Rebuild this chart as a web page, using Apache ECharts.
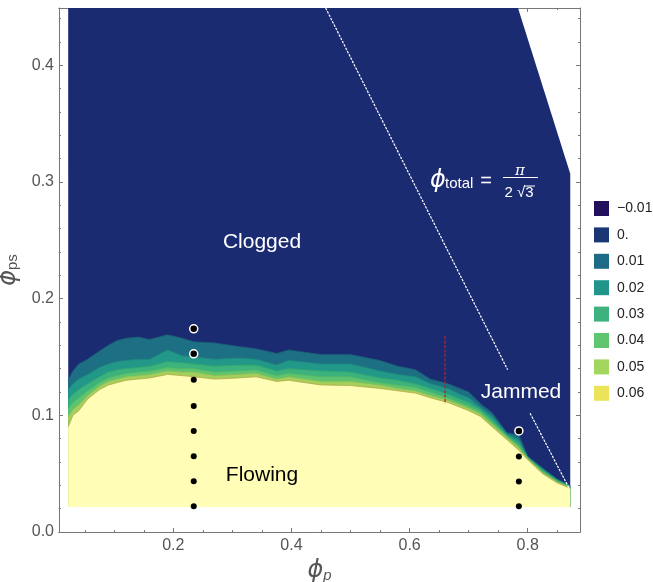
<!DOCTYPE html>
<html>
<head>
<meta charset="utf-8">
<script src="https://cdn.jsdelivr.net/npm/echarts@6/dist/echarts.min.js"></script>
<style>
  html, body { margin: 0; padding: 0; background: #fff; }
  #chart { width: 653px; height: 582px; }
</style>
</head>
<body>
<div id="chart"></div>
<script>
// contour boundaries (phi_p -> phi_ps)
const xs = [0.022, 0.03, 0.04, 0.055, 0.075, 0.09, 0.105, 0.12, 0.14, 0.16, 0.19, 0.215, 0.235, 0.27, 0.31, 0.34, 0.375, 0.395, 0.45, 0.5, 0.55, 0.58, 0.61, 0.635, 0.665, 0.685, 0.70, 0.72, 0.74, 0.765, 0.785, 0.80, 0.825, 0.85, 0.872]
const c0 = [0.130, 0.138, 0.144, 0.148, 0.155, 0.160, 0.164, 0.166, 0.167, 0.165, 0.169, 0.166, 0.163, 0.162, 0.159, 0.157, 0.153, 0.156, 0.152, 0.152, 0.147, 0.142, 0.139, 0.131, 0.127, 0.123, 0.120, 0.110, 0.102, 0.085, 0.083, 0.065, 0.055, 0.045, 0.040]
const c1 = [0.122, 0.127, 0.131, 0.135, 0.141, 0.144, 0.146, 0.147, 0.148, 0.148, 0.156, 0.151, 0.150, 0.148, 0.149, 0.148, 0.143, 0.147, 0.144, 0.144, 0.138, 0.135, 0.133, 0.127, 0.123, 0.118, 0.115, 0.107, 0.099, 0.084, 0.079, 0.064, 0.054, 0.045, 0.039]
const c2 = [0.113, 0.118, 0.122, 0.127, 0.133, 0.137, 0.139, 0.140, 0.141, 0.142, 0.146, 0.145, 0.144, 0.142, 0.143, 0.143, 0.138, 0.140, 0.138, 0.137, 0.132, 0.130, 0.127, 0.123, 0.118, 0.114, 0.111, 0.105, 0.096, 0.083, 0.076, 0.064, 0.053, 0.044, 0.039]
const c3 = [0.106, 0.111, 0.115, 0.121, 0.128, 0.132, 0.134, 0.136, 0.137, 0.138, 0.141, 0.140, 0.140, 0.137, 0.138, 0.139, 0.134, 0.136, 0.133, 0.133, 0.128, 0.126, 0.124, 0.120, 0.115, 0.111, 0.108, 0.103, 0.094, 0.082, 0.074, 0.063, 0.052, 0.043, 0.038]
const c4 = [0.099, 0.105, 0.109, 0.117, 0.125, 0.129, 0.131, 0.133, 0.134, 0.135, 0.138, 0.137, 0.137, 0.134, 0.135, 0.136, 0.131, 0.133, 0.129, 0.129, 0.126, 0.123, 0.121, 0.117, 0.113, 0.109, 0.106, 0.101, 0.092, 0.081, 0.072, 0.063, 0.051, 0.043, 0.038]
const c5 = [0.090, 0.100, 0.104, 0.114, 0.122, 0.126, 0.128, 0.130, 0.131, 0.132, 0.135, 0.134, 0.133, 0.131, 0.132, 0.133, 0.129, 0.130, 0.126, 0.1255, 0.123, 0.121, 0.119, 0.115, 0.111, 0.107, 0.104, 0.099, 0.090, 0.079, 0.070, 0.062, 0.050, 0.042, 0.0375]
const curves = [c0, c1, c2, c3, c4, c5]
const bandColors = ['#1d6f83', '#229889', '#3cb27c', '#5dc46f', '#a3d05d', '#fffdb6']
const lineColors = ['#1a5f74', '#1f8a7d', '#35a470', '#54b565', '#93bd55', '#b5a845']

// sampled region of the plot
const domainX = [0.022, 0.022, 0.7835, 0.872, 0.872]
const domainY = [0.0214, 0.449, 0.449, 0.307, 0.0214]
const bottomY = 0.0214

// phi_total = pi / (2 sqrt 3) line, two pieces around the label
const totalLineA = [[0.4579, 0.449], [0.766, 0.139]]
const totalLineB = [[0.804, 0.1018], [0.870, 0.0375]]
const redLine = [[0.66, 0.168], [0.66, 0.110]]

// simulation points
const blackDots = [[0.2345, 0.022], [0.2345, 0.0435], [0.2345, 0.065], [0.2345, 0.0866], [0.2345, 0.108], [0.2345, 0.1304],
  [0.785, 0.022], [0.785, 0.0432], [0.785, 0.0646]]
const ringDots = [[0.2345, 0.1527], [0.2345, 0.1741], [0.785, 0.0866]]

const legendLabels = ['\u22120.01', '0.', '0.01', '0.02', '0.03', '0.04', '0.05', '0.06']
const legendColors = ['#22105c', '#1a3675', '#1d6b86', '#21958b', '#3db17e', '#5fc56f', '#a2d65f', '#ebe35a']

const majorX = [0.2, 0.4, 0.6, 0.8]
const minorX = [0.05, 0.1, 0.15, 0.25, 0.3, 0.35, 0.45, 0.5, 0.55, 0.65, 0.7, 0.75, 0.85]

const chart = echarts.init(document.getElementById('chart'), null, { renderer: 'canvas' })

const frameColor = '#777'
const xBase = {
  type: 'value', min: 0.0064, max: 0.8885,
  axisLine: { show: true, onZero: false, lineStyle: { color: frameColor, width: 1 } },
  splitLine: { show: false }
}
const mkX = (pos, vals, len, labels) => Object.assign({}, xBase, {
  position: pos,
  axisTick: { show: true, inside: true, length: len, customValues: vals, lineStyle: { color: frameColor } },
  axisLabel: labels
    ? { show: true, customValues: vals, color: '#555', fontSize: 16, fontFamily: 'Liberation Sans', margin: 6, formatter: v => v.toFixed(1) }
    : { show: false }
})
const mkY = (pos, labels) => ({
  type: 'value', position: pos, min: 0, max: 0.449, interval: 0.1,
  axisLine: { show: true, onZero: false, lineStyle: { color: frameColor, width: 1 } },
  axisTick: { show: true, inside: true, length: 4, lineStyle: { color: frameColor } },
  minorTick: { show: true, splitNumber: 5, length: 2, lineStyle: { color: frameColor } },
  splitLine: { show: false },
  axisLabel: labels
    ? { show: true, color: '#555', fontSize: 16, fontFamily: 'Liberation Sans', margin: 5, showMaxLabel: false, formatter: v => v.toFixed(1) }
    : { show: false }
})

const bandSeries = {
  type: 'custom',
  silent: true,
  clip: true,
  data: [[-1], [0], [1], [2], [3], [4], [5]],
  renderItem: (params, api) => {
    const k = api.value(0)
    if (k < 0) {
      const pts = domainX.map((x, i) => api.coord([x, domainY[i]]))
      return { type: 'polygon', shape: { points: pts }, style: { fill: '#1b2b72' } }
    }
    const curve = curves[k]
    const top = xs.map((x, i) => api.coord([x, curve[i]]))
    const pts = top.concat([api.coord([xs[xs.length - 1], bottomY]), api.coord([xs[0], bottomY])])
    return {
      type: 'group',
      children: [
        { type: 'polygon', shape: { points: pts }, style: { fill: bandColors[k] } },
        { type: 'polyline', shape: { points: top }, style: { stroke: lineColors[k], lineWidth: 0.8, fill: null } }
      ]
    }
  }
}

const series = [
  bandSeries,
  { type: 'line', data: totalLineA, symbol: 'none', silent: true, lineStyle: { color: '#fff', width: 1.2, type: [2.5, 1.2] }, z: 5 },
  { type: 'line', data: totalLineB, symbol: 'none', silent: true, lineStyle: { color: '#fff', width: 1.2, type: [2.5, 1.2] }, z: 5 },
  { type: 'line', data: redLine, symbol: 'none', silent: true, lineStyle: { color: '#b8231f', width: 1.3, type: [3, 1.5] }, z: 5 },
  { type: 'scatter', data: blackDots, symbolSize: 6, silent: true, itemStyle: { color: '#000', opacity: 1 }, z: 6 },
  { type: 'scatter', data: ringDots, symbolSize: 8, silent: true, itemStyle: { color: '#000', borderColor: '#fff', borderWidth: 1.5, opacity: 1 }, z: 6 }
]
legendLabels.forEach((name, i) => {
  series.push({ type: 'scatter', name: name, data: [], itemStyle: { color: legendColors[i], opacity: 1 } })
})

const white = '#fff'
const sans = 'Liberation Sans'

chart.setOption({
  animation: false,
  grid: { left: 59, right: 73, top: 8, bottom: 50, outerBoundsMode: 'none', containLabel: false },
  xAxis: [
    Object.assign(mkX('bottom', majorX, 4, true), {
      name: '{a|\u03d5}{b|p}', nameLocation: 'middle', nameGap: 21,
      nameTextStyle: {
        rich: {
          a: { fontFamily: 'DejaVu Sans', fontStyle: 'italic', fontSize: 24, color: '#555', verticalAlign: 'bottom', lineHeight: 28 },
          b: { fontFamily: sans, fontStyle: 'italic', fontSize: 15, color: '#555', verticalAlign: 'bottom', lineHeight: 20 }
        }
      }
    }),
    mkX('bottom', minorX, 2, false),
    mkX('top', majorX, 4, false),
    mkX('top', minorX, 2, false)
  ],
  yAxis: [
    Object.assign(mkY('left', true), {
      name: '{a|\u03d5}{b|ps}', nameLocation: 'middle', nameGap: 32, nameRotate: 90,
      nameTextStyle: {
        rich: {
          a: { fontFamily: 'DejaVu Sans', fontStyle: 'italic', fontSize: 24, color: '#555', verticalAlign: 'bottom', lineHeight: 28 },
          b: { fontFamily: sans, fontSize: 15, color: '#555', verticalAlign: 'bottom', lineHeight: 20 }
        }
      }
    }),
    mkY('right', false)
  ],
  legend: {
    orient: 'vertical', left: 589, top: 196, itemWidth: 15, itemHeight: 15, itemGap: 11.4,
    icon: 'rect', selectedMode: false,
    textStyle: { fontSize: 14, color: '#222', fontFamily: sans, padding: [0, 0, 0, 3] },
    data: legendLabels
  },
  graphic: [
    { type: 'text', x: 262, y: 242, style: { text: 'Clogged', fill: white, font: '21px Liberation Sans', align: 'center', verticalAlign: 'middle' }, z: 10 },
    { type: 'text', x: 262, y: 475, style: { text: 'Flowing', fill: '#000', font: '21px Liberation Sans', align: 'center', verticalAlign: 'middle' }, z: 10 },
    { type: 'text', x: 521, y: 392, style: { text: 'Jammed', fill: white, font: '21px Liberation Sans', align: 'center', verticalAlign: 'middle' }, z: 10 },
    { type: 'text', x: 430, y: 181, style: { text: '\u03d5', fill: white, font: 'italic 24px DejaVu Sans', align: 'left', verticalAlign: 'middle' }, z: 10 },
    { type: 'text', x: 445, y: 184, style: { text: 'total', fill: white, font: '15px Liberation Sans', align: 'left', verticalAlign: 'middle' }, z: 10 },
    { type: 'text', x: 486, y: 181, style: { text: '=', fill: white, font: '20px Liberation Sans', align: 'center', verticalAlign: 'middle' }, z: 10 },
    { type: 'text', x: 520, y: 171, style: { text: '\u03c0', fill: white, font: 'italic 15px DejaVu Serif', align: 'center', verticalAlign: 'middle' }, z: 10 },
    { type: 'line', shape: { x1: 503, y1: 177.5, x2: 538, y2: 177.5 }, style: { stroke: white, lineWidth: 1 }, z: 10 },
    { type: 'text', x: 519, y: 193, style: { text: '2 \u221a3', fill: white, font: '15px Liberation Sans', align: 'center', verticalAlign: 'middle' }, z: 10 },
    { type: 'line', shape: { x1: 524, y1: 186, x2: 535, y2: 186 }, style: { stroke: white, lineWidth: 1 }, z: 10 }
  ],
  series: series
})
</script>
</body>
</html>
